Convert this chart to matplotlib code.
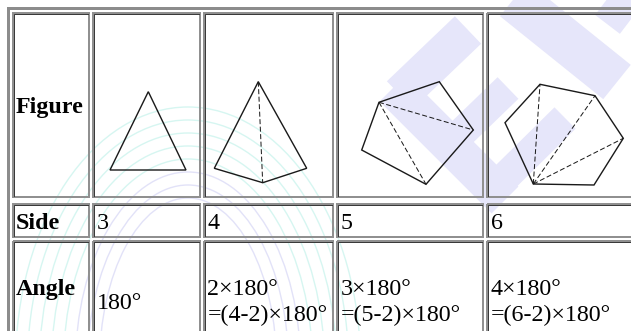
import matplotlib.pyplot as plt
import matplotlib.patches as mplpatches
import numpy as np

# table content
row_labels = ['Figure', 'Side', 'Angle']
sides = [3, 4, 5, 6]
angle_lines = [['180°'],
               ['2×180°', '=(4-2)×180°'],
               ['3×180°', '=(5-2)×180°'],
               ['4×180°', '=(6-2)×180°']]

# polygon outlines (pixel coords) and dashed diagonals
triangle = [(148.3, 91.7), (186, 170), (110, 170)]
quad = [(258.3, 81.7), (306.7, 168.3), (262.7, 182.7), (214.3, 168.3)]
pentagon = [(379, 102.3), (439.3, 81.7), (473.3, 130), (426, 184.3), (361.7, 150)]
hexagon = [(540, 84.3), (595, 95.7), (623.3, 138.3), (594, 185), (533.3, 184), (505, 122.7)]
shapes = [triangle, quad, pentagon, hexagon]
diag_from = [None, 0, 0, 4]
diag_to = [[], [2], [2, 3], [0, 1, 2]]

# layout
col_edges = [(13, 89), (93, 200), (204, 333), (337, 483), (487, 660)]
row_edges = [(13, 197), (204, 237), (241, 360)]
label_base = [113, 229, 295]
fs = 24 * 0.72
px = 0.72

fig = plt.figure(figsize=(6.31, 3.31), dpi=100)
ax = fig.add_axes([0, 0, 1, 1])
ax.set_xlim(0, 631)
ax.set_ylim(331, 0)
ax.axis('off')

# faint watermark behind the table
for k in range(8):
    col = '#d6f6f1' if k < 5 else '#e2e2f8'
    arc = mplpatches.Ellipse((188, 365), 345 - 24 * k, 516 - 26 * k, fill=False,
                             edgecolor=col, linewidth=1.0, zorder=0)
    ax.add_patch(arc)
bands = [((393, 88), (505, 200), 38), ((400, 95), (468, 30), 38),
         ((448, 146), (508, 88), 30), ((492, 190), (565, 118), 30),
         ((500, -12), (617, 82), 44), ((598, -8), (640, 24), 40)]
for p0, p1, w in bands:
    ax.plot([p0[0], p1[0]], [p0[1], p1[1]], color='#e6e6fa', linewidth=w * px,
            solid_capstyle='butt', zorder=0.5)

# outer table border
ax.plot([7.5, 7.5, 640], [340, 7.5, 7.5], color='#8c8c8c', linewidth=3 * px,
        solid_joinstyle='miter', zorder=3)

# cells
for (y0, y1) in row_edges:
    for (x0, x1) in col_edges:
        cell = mplpatches.Rectangle((x0, y0), x1 - x0, y1 - y0, fill=False,
                                    edgecolor='#909090', linewidth=2 * px, zorder=3)
        ax.add_patch(cell)
        ax.plot([x0 + 0.8, x0 + 0.8, x1 - 0.8], [y1 - 0.8, y0 + 0.8, y0 + 0.8],
                color='#3a3a3a', linewidth=1 * px, zorder=3.5)

# row labels
for lab, yb in zip(row_labels, label_base):
    ax.text(16, yb, lab, fontsize=fs, fontweight='bold', family='Liberation Serif',
            va='baseline', ha='left', zorder=4)

# side counts and angle sums
for i, n in enumerate(sides):
    x0 = col_edges[i + 1][0] + 3.5
    ax.text(x0, 229, str(n), fontsize=fs, family='Liberation Serif',
            va='baseline', ha='left', zorder=4)
    lines = angle_lines[i]
    if len(lines) == 1:
        ax.text(x0, 309, lines[0], fontsize=fs, family='Liberation Serif',
                va='baseline', ha='left', zorder=4)
    else:
        for j, t in enumerate(lines):
            ax.text(x0, 295 + 26 * j, t, fontsize=fs, family='Liberation Serif',
                    va='baseline', ha='left', zorder=4)

# polygons
for i, pts in enumerate(shapes):
    poly = mplpatches.Polygon(pts, closed=True, fill=False, edgecolor='#1a1a1a',
                              linewidth=1.4 * px, joinstyle='miter', zorder=4)
    ax.add_patch(poly)
    if diag_from[i] is None:
        continue
    a = pts[diag_from[i]]
    for j in diag_to[i]:
        b = pts[j]
        ax.plot([a[0], b[0]], [a[1], b[1]], color='#1a1a1a', linewidth=1.0 * px,
                linestyle=(0, (5, 2.5)), zorder=4)

plt.savefig('out.png', dpi=100)
